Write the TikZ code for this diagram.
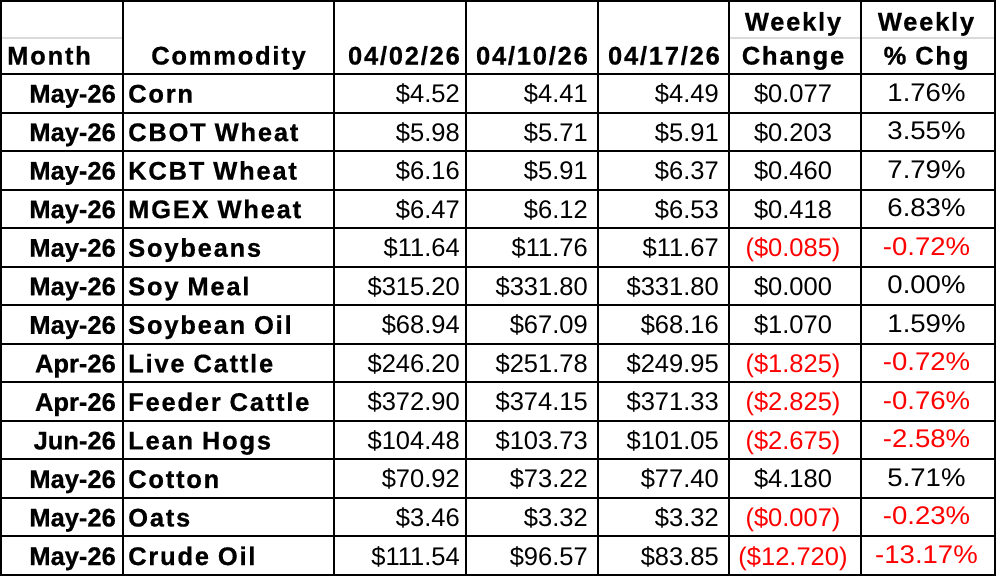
\documentclass[tikz,border=0pt]{standalone}
\usepackage{fontspec}
\setmainfont{Liberation Sans}[BoldFeatures={FakeBold=0.6}]
\newfontfamily\spaced{Liberation Sans}[LetterSpace=7,BoldFeatures={FakeBold=0.6}]
\newfontfamily\wide{Liberation Sans}[FakeStretch=1.08]
\definecolor{negred}{RGB}{255,0,0}
\definecolor{sepgray}{RGB}{218,218,218}
\begin{document}
\begin{tikzpicture}[x=1pt,y=-1pt,
  cell/.style={inner sep=0pt,font=\fontsize{25.5}{30}\selectfont},
  hdr/.style={inner sep=0pt,font=\fontsize{25.5}{30}\selectfont\spaced\bfseries},
  monthcell/.style={inner sep=0pt,font=\fontsize{25.5}{30}\selectfont\bfseries,anchor=base east},
  namecell/.style={hdr,anchor=base west},
  numcell/.style={cell,anchor=base east},
  chgcell/.style={cell,anchor=base},
  pctcell/.style={inner sep=0pt,font=\fontsize{25.5}{30}\selectfont\wide,anchor=base},
  gridline/.style={line width=2pt,black},
  softline/.style={line width=1.5pt,sepgray}]
\useasboundingbox (0,0) rectangle (996,576);
\fill[white] (0,0) rectangle (996,576);
% header
\draw[softline] (2,38) -- (122,38);
\draw[softline] (730,38) -- (994,38);
\node[hdr,anchor=base west] (hmonth) at (7,64.5) {Month};
\node[hdr,anchor=base] (hcom) at (228.5,64.5) {Commodity};
\node[hdr,anchor=base east] (hd1) at (460,64.5) {04/02/26};
\node[hdr,anchor=base east] (hd2) at (588,64.5) {04/10/26};
\node[hdr,anchor=base east] (hd3) at (720,64.5) {04/17/26};
\node[hdr,anchor=base] (hwc1) at (793,30.5) {Weekly};
\node[hdr,anchor=base] (hwc2) at (793,64.5) {Change};
\node[hdr,anchor=base] (hwp1) at (926,30.5) {Weekly};
\node[hdr,anchor=base] (hwp2) at (926,64.5) {\% Chg};
% rows
\foreach \mo/\co/\a/\b/\c/\d/\e/\col [count=\i] in {
  May-26/Corn/\$4.52/\$4.41/\$4.49/\$0.077/1.76\%/black,
  May-26/CBOT Wheat/\$5.98/\$5.71/\$5.91/\$0.203/3.55\%/black,
  May-26/KCBT Wheat/\$6.16/\$5.91/\$6.37/\$0.460/7.79\%/black,
  May-26/MGEX Wheat/\$6.47/\$6.12/\$6.53/\$0.418/6.83\%/black,
  May-26/Soybeans/\$11.64/\$11.76/\$11.67/(\$0.085)/-0.72\%/negred,
  May-26/Soy Meal/\$315.20/\$331.80/\$331.80/\$0.000/0.00\%/black,
  May-26/Soybean Oil/\$68.94/\$67.09/\$68.16/\$1.070/1.59\%/black,
  Apr-26/Live Cattle/\$246.20/\$251.78/\$249.95/(\$1.825)/-0.72\%/negred,
  Apr-26/Feeder Cattle/\$372.90/\$374.15/\$371.33/(\$2.825)/-0.76\%/negred,
  Jun-26/Lean Hogs/\$104.48/\$103.73/\$101.05/(\$2.675)/-2.58\%/negred,
  May-26/Cotton/\$70.92/\$73.22/\$77.40/\$4.180/5.71\%/black,
  May-26/Oats/\$3.46/\$3.32/\$3.32/(\$0.007)/-0.23\%/negred,
  May-26/Crude Oil/\$111.54/\$96.57/\$83.85/(\$12.720)/-13.17\%/negred} {
  \pgfmathsetmacro\yb{74+38.54*\i-10}
  \pgfmathsetmacro\yp{\yb-1.5}
  \node[monthcell] (mo\i) at (116,\yb) {\mo};
  \node[namecell] (co\i) at (128,\yb) {\co};
  \node[numcell] (pa\i) at (460,\yb) {\a};
  \node[numcell] (pb\i) at (588,\yb) {\b};
  \node[numcell] (pc\i) at (719,\yb) {\c};
  \node[chgcell,text=\col] (wc\i) at (793,\yb) {\d};
  \node[pctcell,text=\col] (wp\i) at (926.5,\yp) {\e};
}
% grid
\foreach \k in {0,...,12} {
  \draw[gridline] (1,{74+38.54*\k}) -- (995,{74+38.54*\k});
}
\foreach \xx in {123,334,466,598,729,861} {
  \draw[gridline] (\xx,1) -- (\xx,575);
}
\draw[gridline] (1,1) rectangle (995,575);
\end{tikzpicture}
\end{document}
